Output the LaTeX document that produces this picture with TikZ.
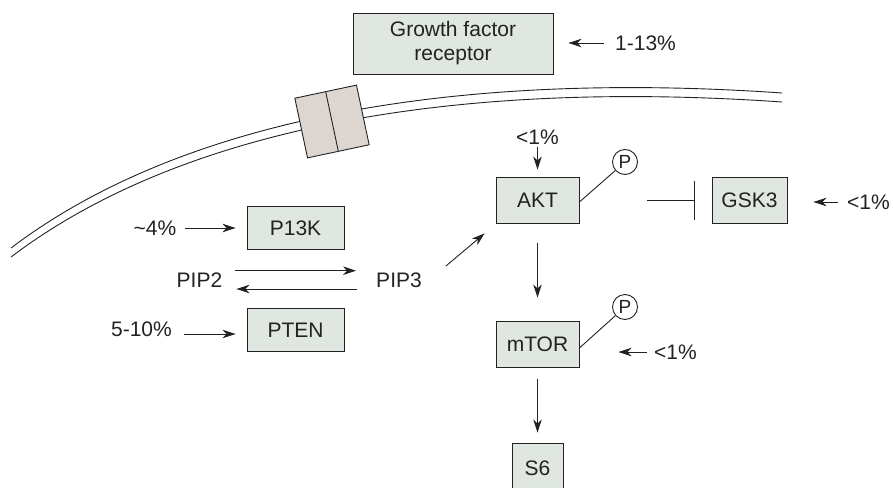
\documentclass[tikz,border=0pt]{standalone}
\usepackage{fontspec}
\setmainfont{Liberation Sans}
\usetikzlibrary{arrows.meta}
\definecolor{boxfill}{HTML}{E0E6E0}
\definecolor{chanfill}{HTML}{DDD5D0}
\definecolor{ink}{HTML}{222222}
\begin{document}
\begin{tikzpicture}[x=1pt,y=-1pt,
  every node/.style={font=\fontsize{21}{24}\selectfont, text=ink},
  protbox/.style={draw=ink, line width=0.9pt, fill=boxfill, rectangle, inner sep=0pt, text height=15pt, text depth=0pt},
  lbl/.style={inner sep=0pt, text height=15pt, text depth=0pt},
  pcirc/.style={draw=ink, line width=0.9pt, circle, fill=white, minimum size=25pt, inner sep=0pt, font=\fontsize{19}{20}\selectfont},
  conn/.style={draw=ink, line width=0.9pt, -{Stealth[length=13pt,width=8.5pt,inset=4pt]}},
  plain/.style={draw=ink, line width=0.9pt},
  memb/.style={draw=ink, line width=0.9pt}
]
\useasboundingbox (0,0) rectangle (893,487);

% membrane
\draw[memb] (11,248) .. controls (180,120) and (450,70) .. (782,93);
\draw[memb] (11,257) .. controls (180,129) and (450,79) .. (782,102);

% channel
\begin{scope}[shift={(332,121.5)}, rotate=12]
  \draw[draw=ink, line width=0.9pt, fill=chanfill] (-31.5,-30.5) rectangle (31.5,30.5);
  \draw[draw=ink, line width=0.9pt] (0,-30.5) -- (0,30.5);
\end{scope}

% boxes
\node[draw=ink, line width=0.9pt, fill=boxfill, minimum width=200pt, minimum height=61pt, align=center, inner sep=0pt] (gf) at (453,43.5) {Growth factor\\receptor};
\node[protbox, minimum width=97pt, minimum height=43pt] (p13k) at (295.5,227.5) {P13K};
\node[protbox, minimum width=97pt, minimum height=43pt] (pten) at (295.5,329.5) {PTEN};
\node[protbox, minimum width=83pt, minimum height=46pt] (akt) at (537.5,200) {AKT};
\node[protbox, minimum width=83pt, minimum height=46pt] (mtor) at (537.5,344) {mTOR};
\node[protbox, minimum width=75pt, minimum height=46pt] (gsk) at (749.5,200) {GSK3};
\node[protbox, minimum width=51pt, minimum height=49pt] (s6) at (537.5,467.5) {S6};

% phosphates
\node[pcirc] (pa) at (625,162) {P};
\node[pcirc] (pm) at (625,307) {P};

% labels
\node[lbl] (lgf) at (645.5,43) {1-13\%};
\node[lbl] (l4) at (155,228) {\textasciitilde4\%};
\node[lbl] (l510) at (141.5,329) {5-10\%};
\node[lbl] (pip2) at (199.5,280) {PIP2};
\node[lbl] (pip3) at (399,280) {PIP3};
\node[lbl] (lakt) at (537.5,137) {<1\%};
\node[lbl] (lgsk) at (868.5,202) {<1\%};
\node[lbl] (lmtor) at (675.5,352) {<1\%};

% connectors
\draw[conn, shorten <=11pt, shorten >=15pt] (lgf.west) -- (lgf.west -| gf.east);
\draw[conn, shorten <=8pt, shorten >=11pt] (l4.east) -- (l4.east -| p13k.west);
\draw[conn, shorten <=12pt, shorten >=11pt] ([yshift=-5pt]l510.east) -- ([yshift=-5pt]l510.east -| pten.west);
\draw[conn, shorten <=13pt, shorten >=20pt] ([yshift=9.3pt]pip2.east) -- ([yshift=9.3pt]pip2.east -| pip3.west);
\draw[conn, shorten <=19pt, shorten >=14pt] ([yshift=-9pt]pip3.west) -- ([yshift=-9pt]pip3.west -| pip2.east);
\draw[conn] ([shift={(24pt,14pt)}]pip3.east) -- ([shift={(-11pt,-10pt)}]akt.south west);
\draw[conn, shorten <=2.5pt, shorten >=7pt] (lakt.south) -- (akt.north);
\draw[conn, shorten <=20pt, shorten >=23pt] (akt.south) -- (mtor.north);
\draw[conn, shorten <=12pt, shorten >=10pt] (mtor.south) -- (s6.north);
\draw[plain] ([yshift=-2pt]akt.east) -- (pa);
\draw[plain] ([yshift=-4pt]mtor.east) -- (pm);
\draw[draw=ink, line width=0.9pt, -{Bar[width=39pt, line width=0.9pt]}, shorten <=68pt, shorten >=17pt] (akt.east) -- (gsk.west);
\draw[conn, shorten <=9pt, shorten >=26pt] (lgsk.west) -- (lgsk.west -| gsk.east);
\draw[conn, shorten <=7pt, shorten >=39pt] (lmtor.west) -- (lmtor.west -| mtor.east);
\end{tikzpicture}
\end{document}
